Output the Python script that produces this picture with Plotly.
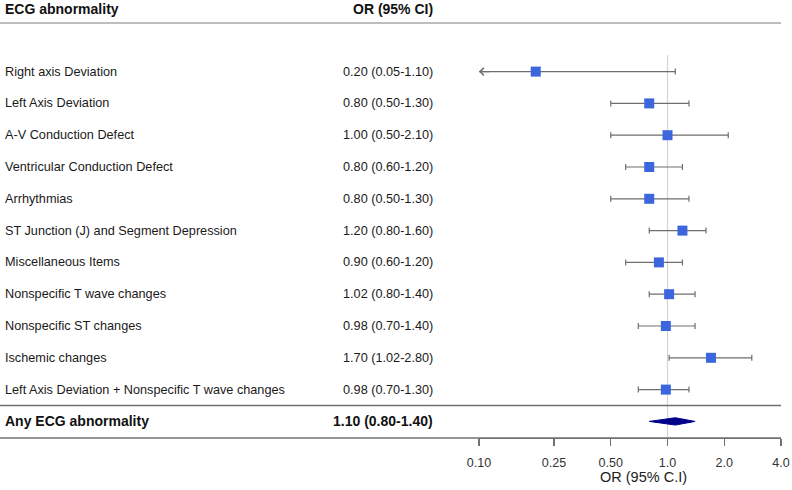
import math
import plotly.graph_objects as go

# ---------------- data ----------------
labels = [
    "Right axis Deviation",
    "Left Axis Deviation",
    "A-V Conduction Defect",
    "Ventricular Conduction Defect",
    "Arrhythmias",
    "ST Junction (J) and Segment Depression",
    "Miscellaneous Items",
    "Nonspecific T wave changes",
    "Nonspecific ST changes",
    "Ischemic changes",
    "Left Axis Deviation + Nonspecific T wave changes",
]
or_vals = [0.20, 0.80, 1.00, 0.80, 0.80, 1.20, 0.90, 1.02, 0.98, 1.70, 0.98]
ci_low = [0.05, 0.50, 0.50, 0.60, 0.50, 0.80, 0.60, 0.80, 0.70, 1.02, 0.70]
ci_high = [1.10, 1.30, 2.10, 1.20, 1.30, 1.60, 1.20, 1.40, 1.40, 2.80, 1.30]

summary_label = "Any ECG abnormality"
summary_or = 1.10
summary_low = 0.80
summary_high = 1.40

tick_vals = [0.10, 0.25, 0.50, 1.0, 2.0, 4.0]
tick_text = ["0.10", "0.25", "0.50", "1.0", "2.0", "4.0"]
x_min, x_max = 0.10, 4.0

# ---------------- layout constants ----------------
W, H = 792, 490
MB = 52
PH = H - MB  # plot area height in px
ROW0_PX = 71.6
PITCH = 31.8
FONT = "Liberation Sans, Arial, sans-serif"
TXT = "#1a1a1a"
n = len(labels)
rows = list(range(n))
sum_row = n

y_bottom = (PH - ROW0_PX) / PITCH
y_top = -ROW0_PX / PITCH


def px_to_paper(px):
    return 1 - px / PH


fig = go.Figure()

# points with CIs
fig.add_trace(go.Scatter(
    x=or_vals, y=rows, mode="markers",
    marker=dict(symbol="square", size=10, color="#3C66DE",
                line=dict(width=0)),
    error_x=dict(type="data", symmetric=False,
                 array=[h - o for h, o in zip(ci_high, or_vals)],
                 arrayminus=[o - l for o, l in zip(or_vals, ci_low)],
                 color="#6e6e6e", thickness=1.2, width=3),
    hoverinfo="skip", showlegend=False,
))

# summary diamond
dh = 0.115
fig.add_trace(go.Scatter(
    x=[summary_low, summary_or, summary_high, summary_or, summary_low],
    y=[sum_row, sum_row - dh, sum_row, sum_row + dh, sum_row],
    mode="lines", fill="toself", fillcolor="#00008B",
    line=dict(color="#00008B", width=1),
    hoverinfo="skip", showlegend=False,
))

annotations = []
# clipped CI arrows
for i, (l, o) in enumerate(zip(ci_low, or_vals)):
    if l < x_min:
        annotations.append(dict(
            x=math.log10(x_min), y=i, xref="x", yref="y",
            ax=12, ay=0, axref="pixel", ayref="pixel",
            showarrow=True, arrowhead=4, arrowsize=1.3, arrowwidth=1.1,
            arrowcolor="#6e6e6e", text="",
        ))

# text columns
LABEL_X = 3 / W
OR_X = 435 / W
for i, lab in enumerate(labels):
    annotations.append(dict(x=LABEL_X, y=i, xref="paper", yref="y", text=lab,
                            showarrow=False, xanchor="left", yanchor="middle",
                            font=dict(family=FONT, size=12.7, color=TXT)))
    annotations.append(dict(x=OR_X, y=i, xref="paper", yref="y",
                            text=f"{or_vals[i]:.2f} ({ci_low[i]:.2f}-{ci_high[i]:.2f})",
                            showarrow=False, xanchor="right", yanchor="middle",
                            font=dict(family=FONT, size=12.7, color=TXT)))
annotations.append(dict(x=LABEL_X, y=sum_row, xref="paper", yref="y",
                        text=f"<b>{summary_label}</b>",
                        showarrow=False, xanchor="left", yanchor="middle",
                        font=dict(family=FONT, size=14, color="#111")))
annotations.append(dict(x=OR_X, y=sum_row, xref="paper", yref="y",
                        text=f"<b>{summary_or:.2f} ({summary_low:.2f}-{summary_high:.2f})</b>",
                        showarrow=False, xanchor="right", yanchor="middle",
                        font=dict(family=FONT, size=14, color="#111")))
# headers
annotations.append(dict(x=LABEL_X, y=px_to_paper(9), xref="paper", yref="paper",
                        text="<b>ECG abnormality</b>", showarrow=False,
                        xanchor="left", yanchor="middle",
                        font=dict(family=FONT, size=14, color="#111")))
annotations.append(dict(x=OR_X, y=px_to_paper(9), xref="paper", yref="paper",
                        text="<b>OR (95% CI)</b>", showarrow=False,
                        xanchor="right", yanchor="middle",
                        font=dict(family=FONT, size=14, color="#111")))
# x axis title
annotations.append(dict(x=643 / W, y=0, xref="paper", yref="paper",
                        text="OR (95% C.I)", showarrow=False,
                        xanchor="center", yanchor="middle", yshift=-39,
                        font=dict(family=FONT, size=14.5, color="#222")))

shapes = [
    # header line
    dict(type="line", xref="paper", yref="paper", x0=0, x1=781 / W,
         y0=px_to_paper(23), y1=px_to_paper(23),
         line=dict(color="#a8a8a8", width=1.3)),
    # separator above summary
    dict(type="line", xref="paper", yref="paper", x0=0, x1=781 / W,
         y0=px_to_paper(405.5), y1=px_to_paper(405.5),
         line=dict(color="#707070", width=1.3)),
    # bottom line across full width
    dict(type="line", xref="paper", yref="paper", x0=0, x1=781 / W,
         y0=0, y1=0, line=dict(color="#707070", width=1.3)),
    # reference line at OR = 1
    dict(type="line", xref="x", yref="paper", x0=1, x1=1,
         y0=0, y1=px_to_paper(55), line=dict(color="#d4d4d4", width=1.2),
         layer="below"),
]

fig.update_layout(
    width=W, height=H,
    margin=dict(l=0, r=0, t=0, b=MB, pad=0, autoexpand=False),
    plot_bgcolor="white", paper_bgcolor="white",
    showlegend=False,
    annotations=annotations, shapes=shapes,
    xaxis=dict(type="log", domain=[479 / W, 781 / W], automargin=False,
               range=[math.log10(x_min), math.log10(x_max)],
               tickvals=tick_vals, ticktext=tick_text,
               ticks="outside", ticklen=7, tickwidth=1.2, tickcolor="#707070",
               showline=True, linecolor="#707070", linewidth=1.3,
               showgrid=False, zeroline=False, ticklabelstandoff=6,
               tickfont=dict(family=FONT, size=12.5, color="#333")),
    yaxis=dict(range=[y_bottom, y_top], visible=False, showgrid=False,
               zeroline=False, automargin=False),
)

fig.write_html("out.html",
               config={"displayModeBar": False, "staticPlot": True},
               post_script="document.body.style.margin='0';document.body.style.overflow='hidden';")
